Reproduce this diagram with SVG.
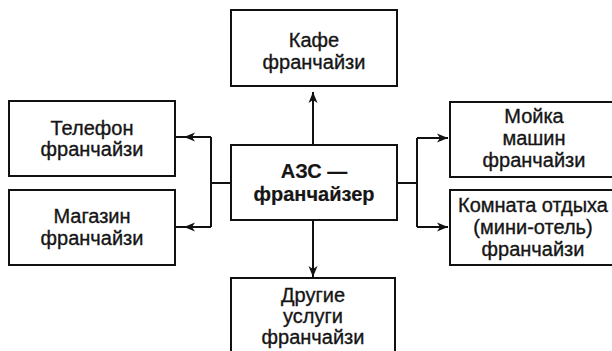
<svg xmlns="http://www.w3.org/2000/svg" width="612" height="351" viewBox="0 0 612 351">
<defs>
<style>
.box{fill:#fff;stroke:#111;stroke-width:2}
.t{font-family:"Liberation Sans",Arial,sans-serif;font-size:20px;fill:#151515;stroke:#151515;stroke-width:0.35;text-anchor:middle}
.b{font-weight:bold;stroke-width:0.2}
.c{fill:none;stroke:#111;stroke-width:2}
</style>
<marker id="ah" viewBox="-12 -5 13 10" markerWidth="13" markerHeight="10" refX="0" refY="0" orient="auto" markerUnits="userSpaceOnUse">
<path d="M0,0 L-11,-4.5 L-8,0 L-11,4.5 Z" fill="#111"/>
</marker>
</defs>
<rect width="612" height="351" fill="#fff"/>
<g id="connectors">
<path class="c" d="M313,145 V92" marker-end="url(#ah)"/>
<path class="c" d="M313,220 V277" marker-end="url(#ah)"/>
<path class="c" d="M231,183 H211"/>
<path class="c" d="M211,137 V227"/>
<path class="c" d="M211,137 H184 H176" marker-mid="url(#ah)"/>
<path class="c" d="M211,227 H184 H176" marker-mid="url(#ah)"/>
<path class="c" d="M397,183 H417"/>
<path class="c" d="M417,138 V227"/>
<path class="c" d="M417,138 H448" marker-end="url(#ah)"/>
<path class="c" d="M417,227 H448" marker-end="url(#ah)"/>
</g>
<g id="kafe">
<rect class="box" x="231" y="10" width="166" height="76"/>
<text class="t" x="314" y="47">Кафе</text>
<text class="t" x="314" y="69">франчайзи</text>
</g>
<g id="telefon">
<rect class="box" x="9" y="101" width="166" height="75"/>
<text class="t" x="92" y="135">Телефон</text>
<text class="t" x="92" y="156">франчайзи</text>
</g>
<g id="magazin">
<rect class="box" x="9" y="190" width="166" height="75"/>
<text class="t" x="92" y="223">Магазин</text>
<text class="t" x="92" y="245">франчайзи</text>
</g>
<g id="azs">
<rect class="box" x="231" y="145" width="166" height="75"/>
<text class="t b" x="314" y="178">АЗС —</text>
<text class="t b" x="314" y="201">франчайзер</text>
</g>
<g id="moika">
<rect class="box" x="450" y="102" width="170" height="75"/>
<text class="t" x="534" y="123">Мойка</text>
<text class="t" x="534" y="145">машин</text>
<text class="t" x="534" y="167">франчайзи</text>
</g>
<g id="komnata">
<rect class="box" x="450" y="190" width="170" height="75"/>
<text class="t" x="533" y="212">Комната отдыха</text>
<text class="t" x="533" y="234">(мини-отель)</text>
<text class="t" x="533" y="256">франчайзи</text>
</g>
<g id="drugie">
<rect class="box" x="231" y="278" width="164" height="80"/>
<text class="t" x="313" y="302">Другие</text>
<text class="t" x="313" y="323">услуги</text>
<text class="t" x="313" y="344">франчайзи</text>
</g>
</svg>
